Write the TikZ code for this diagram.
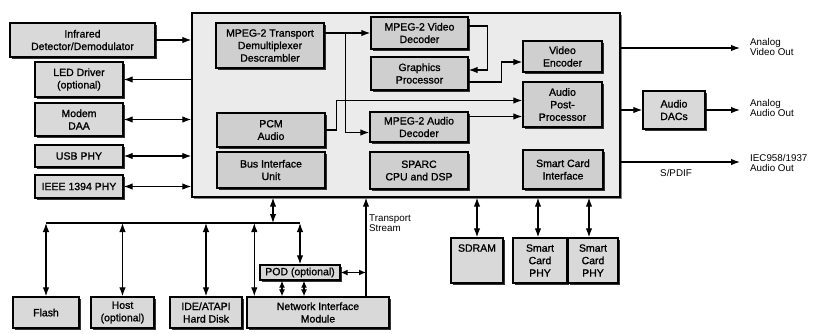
\documentclass[tikz,border=0pt]{standalone}
\usepackage{fontspec}
\setmainfont{Liberation Sans}
\newfontfamily\boxfont[FakeBold=1.2]{Liberation Sans}
\usetikzlibrary{arrows.meta,shadows,calc}
\begin{document}
\begin{tikzpicture}[x=1pt,y=-1pt,
  shad/.style={drop shadow={shadow xshift=1.8pt,shadow yshift=-1.8pt,fill=black,opacity=0.8}},
  blk/.style={draw=black,line width=1.4pt,fill=gray!30,align=center,inner sep=1pt,
     font=\boxfont\fontsize{10.5}{12.5}\selectfont,shad},
  inblk/.style={blk,fill=gray!38},
  lbl/.style={font=\fontsize{9.8}{10.5}\selectfont,align=left,inner sep=0pt},
  tip/.tip={Latex[length=9pt,width=6.5pt]},
  stip/.tip={Latex[length=7pt,width=6pt]},
  arr/.style={line width=1.2pt,-tip},
  darr/.style={line width=1.2pt,tip-tip},
  sdarr/.style={line width=1.2pt,stip-stip},
  wire/.style={line width=1.2pt}
]
\useasboundingbox (0,0) rectangle (820,333);
\fill[white] (0,0) rectangle (820,333);

% main chip
\node[draw=black,line width=1.4pt,fill=gray!16,minimum width=428pt,minimum height=184pt,inner sep=0pt,
  drop shadow={shadow xshift=1.5pt,shadow yshift=-1.5pt,fill=black,opacity=0.5}] (main) at (406,105) {};

% left peripherals
\node[blk,minimum width=145pt,minimum height=34pt] (ir) at (82.5,40) {Infrared\\Detector/Demodulator};
\node[blk,minimum width=88pt,minimum height=35pt] (led) at (79,79.5) {LED Driver\\(optional)};
\node[blk,minimum width=88pt,minimum height=33pt] (modem) at (79,119.5) {Modem\\DAA};
\node[blk,minimum width=88pt,minimum height=22pt] (usb) at (79,156) {USB PHY};
\node[blk,minimum width=88pt,minimum height=23pt] (ieee) at (79,186.5) {IEEE 1394 PHY};

% inner blocks
\node[inblk,minimum width=108pt,minimum height=45pt] (demux) at (270,45.5) {MPEG-2 Transport\\Demultiplexer\\Descrambler};
\node[inblk,minimum width=97pt,minimum height=32pt] (vdec) at (419.5,33) {MPEG-2 Video\\Decoder};
\node[inblk,minimum width=97pt,minimum height=33pt] (gfx) at (419.5,73.5) {Graphics\\Processor};
\node[inblk,minimum width=79pt,minimum height=31pt] (venc) at (562.5,56.5) {Video\\Encoder};
\node[inblk,minimum width=79pt,minimum height=45pt] (apost) at (562.5,104.5) {Audio\\Post-\\Processor};
\node[inblk,minimum width=98pt,minimum height=30pt] (adec) at (419,127) {MPEG-2 Audio\\Decoder};
\node[inblk,minimum width=98pt,minimum height=37pt] (sparc) at (419,170.5) {SPARC\\CPU and DSP};
\node[inblk,minimum width=108pt,minimum height=34pt] (pcm) at (271,130) {PCM\\Audio};
\node[inblk,minimum width=108pt,minimum height=36pt] (biu) at (271,170) {Bus Interface\\Unit};
\node[inblk,minimum width=80pt,minimum height=39pt] (sci) at (563,169.5) {Smart Card\\Interface};

% right
\node[blk,minimum width=62pt,minimum height=38pt] (dacs) at (674,110) {Audio\\DACs};

% bottom right
\node[blk,minimum width=52pt,minimum height=45pt] (sdram) at (477,260.5) {SDRAM\\\phantom{X}\\\phantom{X}};
\node[blk,minimum width=54pt,minimum height=45pt] (scp1) at (540,260.5) {Smart\\Card\\PHY};
\node[blk,minimum width=50pt,minimum height=45pt] (scp2) at (593,260.5) {Smart\\Card\\PHY};

% bottom left
\node[blk,minimum width=66pt,minimum height=31pt] (flash) at (46,312.5) {Flash};
\node[blk,minimum width=63pt,minimum height=31pt] (host) at (122.5,312.5) {Host\\(optional)};
\node[blk,minimum width=72pt,minimum height=31pt] (ide) at (206,312.5) {IDE/ATAPI\\Hard Disk};
\node[blk,minimum width=142pt,minimum height=31pt] (nim) at (318,312.5) {Network Interface\\Module};
\node[blk,minimum width=80pt,minimum height=15pt,inner sep=0pt] (pod) at (300,272.5) {POD (optional)};

% left connectors
\draw[arr] (ir.east) -- (ir.east -| main.west);
\draw[arr] (led.east -| main.west) -- (led.east);
\draw[darr] (modem.east) -- (modem.east -| main.west);
\draw[darr] (usb.east) -- (usb.east -| main.west);
\draw[darr] (ieee.east) -- (ieee.east -| main.west);

% inner connectors
\coordinate (j1) at ($(demux.east |- vdec.west)+(21,0)$);
\draw[arr] (demux.east |- vdec.west) -- (vdec.west);
\draw[arr] (j1) |- ([yshift=-5.5pt]adec.west);
\draw[arr] (pcm.east) -- ++(11,0) |- ([yshift=4pt]apost.west);
\draw[arr] ([yshift=10.5pt]adec.east) -- ([yshift=10.5pt]adec.east -| apost.west);
\draw[arr] ([yshift=7pt]vdec.east) -- ++(19,0) |- ([yshift=3.5pt]gfx.east);
\draw[arr] ([yshift=-8.5pt]gfx.east) -- ++(33,0) |- ([yshift=-5.5pt]venc.west);

% outputs
\coordinate (avo) at (740,48);
\coordinate (aao) at (740,110);
\coordinate (spo) at (740,162);
\draw[arr] (main.east |- avo) -- (avo);
\draw[arr] (main.east |- dacs.west) -- (dacs.west);
\draw[arr] (dacs.east) -- (aao);
\draw[arr] (main.east |- spo) -- (spo);
\node[lbl,anchor=west] (lavo) at (750,47) {Analog\\Video Out};
\node[lbl,anchor=west] (laao) at (750,108) {Analog\\Audio Out};
\node[lbl,anchor=west] (lspo) at (750,163) {IEC958/1937\\Audio Out};
\node[lbl] (lspdif) at (676,173) {S/PDIF};

% memory / smart cards
\draw[darr] (sdram.north) -- (sdram.north |- main.south);
\draw[darr] ([xshift=-2pt]scp1.north) -- ([xshift=-2pt]scp1.north |- main.south);
\draw[darr] ([xshift=-4pt]scp2.north) -- ([xshift=-4pt]scp2.north |- main.south);

% bus
\coordinate (busL) at (46,223);
\coordinate (busR) at (300,223);
\coordinate (busT) at (273,223);
\draw[wire] (busL) -- (busR);
\draw[darr] (busT |- main.south) -- (busT);
\draw[darr] (busL) -- (flash.north);
\draw[darr] (host.north |- busL) -- (host.north);
\draw[darr] (ide.north |- busL) -- (ide.north);
\draw[darr] ([xshift=8pt]nim.north west |- busL) -- ([xshift=8pt]nim.north west);
\draw[darr] (busR) -- (pod.north);
\draw[sdarr] ([xshift=-18pt]pod.south) -- ([xshift=-18pt]pod.south |- nim.north);
\draw[sdarr] ([xshift=4pt]pod.south) -- ([xshift=4pt]pod.south |- nim.north);

% transport stream
\coordinate (tsb) at ([xshift=48pt]nim.north);
\draw[arr] (tsb) -- (tsb |- main.south);
\draw[sdarr] (pod.east) -- (pod.east -| tsb);
\node[lbl,anchor=west] (lts) at (369,223) {Transport\\Stream};
\end{tikzpicture}
\end{document}
